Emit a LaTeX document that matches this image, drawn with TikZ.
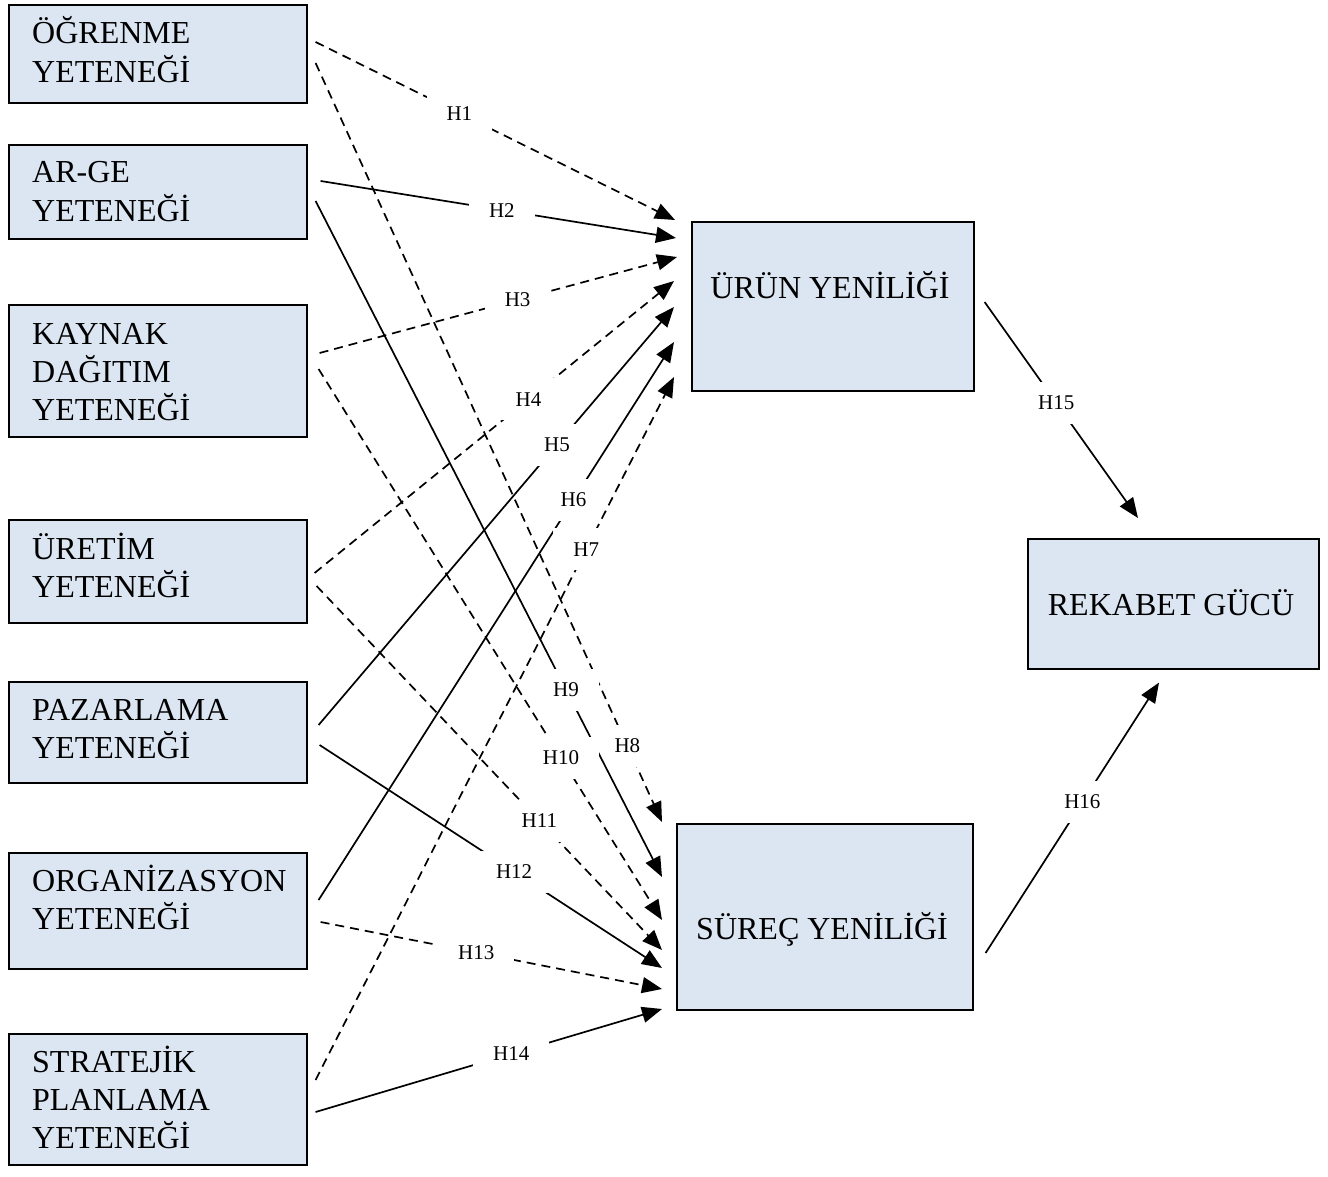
\documentclass[tikz,border=0pt]{standalone}
\usepackage{fontspec}
\setmainfont{Liberation Serif}
\usetikzlibrary{arrows.meta}
\definecolor{boxfill}{HTML}{DCE6F2}
\newcommand\boxlines[1]{\begin{tabular}[t]{@{}l@{}}#1\end{tabular}}

\begin{document}
\begin{tikzpicture}[x=1pt,y=-1pt,
  box/.style={draw=black, line width=1.6pt, fill=boxfill, inner sep=0pt, anchor=north west},
  boxtext/.style={font=\fontsize{32}{38}\selectfont, anchor=base west, inner sep=0pt},
  ctext/.style={font=\fontsize{32}{38}\selectfont, anchor=base, inner sep=0pt},
  link/.style={line width=1.7pt, -{Triangle[length=20pt,width=16pt]}},
  dlink/.style={link, dash pattern=on 9pt off 6pt},
  hyp/.style={font=\fontsize{21}{25}\selectfont, fill=white, inner xsep=20pt, inner ysep=14pt, solid}]

\useasboundingbox (0,0) rectangle (1328,1177);

% capability boxes
\node[box, minimum width=298pt, minimum height=98pt]  (b1) at (8,4) {};
\node[box, minimum width=298pt, minimum height=94pt]  (b2) at (8,144) {};
\node[box, minimum width=298pt, minimum height=132pt] (b3) at (8,304) {};
\node[box, minimum width=298pt, minimum height=103pt] (b4) at (8,519) {};
\node[box, minimum width=298pt, minimum height=101pt] (b5) at (8,681) {};
\node[box, minimum width=298pt, minimum height=116pt] (b6) at (8,852) {};
\node[box, minimum width=298pt, minimum height=131pt] (b7) at (8,1033) {};

\node[boxtext] (t1) at (32,44)   {\boxlines{ÖĞRENME\\YETENEĞİ}};
\node[boxtext] (t2) at (32,183)  {\boxlines{AR-GE\\YETENEĞİ}};
\node[boxtext] (t3) at (32,344)  {\boxlines{KAYNAK\\DAĞITIM\\YETENEĞİ}};
\node[boxtext] (t4) at (32,559)  {\boxlines{ÜRETİM\\YETENEĞİ}};
\node[boxtext] (t5) at (32,720)  {\boxlines{PAZARLAMA\\YETENEĞİ}};
\node[boxtext] (t6) at (32,891)  {\boxlines{ORGANİZASYON\\YETENEĞİ}};
\node[boxtext] (t7) at (32,1072) {\boxlines{STRATEJİK\\PLANLAMA\\YETENEĞİ}};

% innovation and outcome boxes
\node[box, minimum width=282pt, minimum height=169pt] (pr) at (691,221) {};
\node[box, minimum width=296pt, minimum height=186pt] (ps) at (676,823) {};
\node[box, minimum width=291pt, minimum height=130pt] (rg) at (1027,538) {};

\node[ctext] (prt) at (830,298) {ÜRÜN YENİLİĞİ};
\node[ctext] (pst) at (822,939) {SÜREÇ YENİLİĞİ};
\node[ctext] (rgt) at (1171,615) {REKABET GÜCÜ};

% hypotheses towards product innovation
\draw[dlink] ([shift={(8,38)}]b1.north east)  -- node[hyp,pos=0.40]  {H1} ([shift={(-16,-1)}]pr.north west);
\draw[link]  ([shift={(13,37)}]b2.north east) -- node[hyp,pos=0.51]  {H2} ([shift={(-15,17)}]pr.north west);
\draw[dlink] ([shift={(12,49)}]b3.north east) -- node[hyp,pos=0.554] {H3} ([shift={(-14,36)}]pr.north west);
\draw[dlink] ([shift={(7,54)}]b4.north east)  -- node[hyp,pos=0.595] {H4} ([shift={(-17,60)}]pr.north west);
\draw[link]  ([shift={(11,44)}]b5.north east) -- node[hyp,pos=0.671] {H5} ([shift={(-17,86)}]pr.north west);
\draw[link]  ([shift={(11,48)}]b6.north east) -- node[hyp,pos=0.717] {H6} ([shift={(-17,121)}]pr.north west);
\draw[dlink] ([shift={(8,47)}]b7.north east)  -- node[hyp,pos=0.755] {H7} ([shift={(-17,156)}]pr.north west);

% hypotheses towards process innovation
\draw[dlink] ([shift={(8,59)}]b1.north east)  -- node[hyp,pos=0.900] {H8}  ([shift={(-14,-1)}]ps.north west);
\draw[link]  ([shift={(8,57)}]b2.north east)  -- node[hyp,pos=0.723] {H9}  ([shift={(-14,54)}]ps.north west);
\draw[dlink] ([shift={(11,65)}]b3.north east) -- node[hyp,pos=0.706] {H10} ([shift={(-14,97)}]ps.north west);
\draw[dlink] ([shift={(9,67)}]b4.north east)  -- node[hyp,pos=0.645] {H11} ([shift={(-14,127)}]ps.north west);
\draw[link]  ([shift={(12,64)}]b5.north east) -- node[hyp,pos=0.568] {H12} ([shift={(-14,145)}]ps.north west);
\draw[dlink] ([shift={(13,70)}]b6.north east) -- node[hyp,pos=0.456] {H13} ([shift={(-14,166)}]ps.north west);
\draw[link]  ([shift={(8,79)}]b7.north east)  -- node[hyp,pos=0.565] {H14} ([shift={(-14,186)}]ps.north west);

% innovation towards competitiveness
\draw[link] ([shift={(10,81)}]pr.north east)  -- node[hyp,pos=0.467] {H15} ([shift={(111,-20)}]rg.north west);
\draw[link] ([shift={(12,130)}]ps.north east) -- node[hyp,pos=0.558] {H16} ([shift={(132,13)}]rg.south west);
\end{tikzpicture}
\end{document}
